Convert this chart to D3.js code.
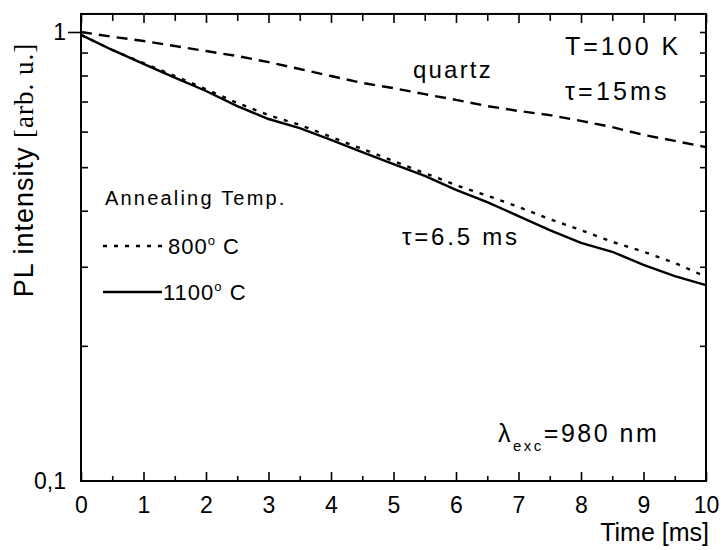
<!DOCTYPE html>
<html>
<head>
<meta charset="utf-8">
<script src="https://cdn.jsdelivr.net/npm/d3@7"></script>
<style>
  body { margin: 0; background: #fff; }
  text { font-family: "Liberation Sans", Arial, sans-serif; fill: #000; }
</style>
</head>
<body>
<script>
'use strict';

// time axis (ms)
const times = [0, 0.5, 1, 1.5, 2, 2.5, 3, 3.5, 4, 4.5, 5, 5.5, 6, 6.5, 7, 7.5, 8, 8.5, 9, 9.5, 10];

// PL intensity
const quartz = [1.0, 0.976, 0.955, 0.931, 0.907, 0.884, 0.857, 0.827, 0.798, 0.770, 0.750,
                0.727, 0.706, 0.684, 0.667, 0.653, 0.634, 0.614, 0.590, 0.572, 0.554];
const anneal800 = [0.985, 0.912, 0.853, 0.798, 0.746, 0.695, 0.653, 0.621, 0.584, 0.549, 0.516,
                   0.485, 0.456, 0.432, 0.408, 0.383, 0.362, 0.341, 0.324, 0.306, 0.285];
const anneal1100 = [0.985, 0.912, 0.849, 0.791, 0.739, 0.684, 0.640, 0.611, 0.575, 0.540, 0.508,
                    0.478, 0.445, 0.418, 0.389, 0.362, 0.339, 0.324, 0.303, 0.286, 0.273];

const xMajor = [0, 1, 2, 3, 4, 5, 6, 7, 8, 9, 10];
const xMinor = [0.5, 1.5, 2.5, 3.5, 4.5, 5.5, 6.5, 7.5, 8.5, 9.5];
const yMajor = [0.1, 1];
const yMinor = [0.2, 0.3, 0.4, 0.5, 0.6, 0.7, 0.8, 0.9];
const yTopLimit = 1.097;

const svg = d3.select('body').append('svg')
  .attr('width', 723)
  .attr('height', 550);

const x = d3.scaleLinear().domain([0, 10]).range([81, 706]);
const y = d3.scaleLog().domain([0.1, 1]).range([481, 32]);

// curves
const line = d3.line()
  .x((d) => x(d[0]))
  .y((d) => y(d[1]));

const series = [
  { vals: quartz, dash: '11,7' },
  { vals: anneal800, dash: '4,7' },
  { vals: anneal1100, dash: null }
];
series.forEach((s) => {
  svg.append('path')
    .datum(times.map((t, i) => [t, s.vals[i]]))
    .attr('d', line)
    .attr('fill', 'none')
    .attr('stroke', '#000')
    .attr('stroke-width', 2.4)
    .attr('stroke-dasharray', s.dash);
});

// frame
svg.append('rect')
  .attr('x', x(0))
  .attr('y', y(yTopLimit))
  .attr('width', x(10) - x(0))
  .attr('height', y(0.1) - y(yTopLimit))
  .attr('fill', 'none')
  .attr('stroke', '#000')
  .attr('stroke-width', 2);

function addAxis(axis, tx, ty, fontSize) {
  const g = svg.append('g')
    .attr('transform', 'translate(' + tx + ',' + ty + ')')
    .call(axis);
  g.select('.domain').remove();
  g.selectAll('line').attr('stroke', '#000').attr('stroke-width', 1.6);
  g.selectAll('text')
    .style('font-family', '"Liberation Sans", Arial, sans-serif')
    .style('font-size', fontSize + 'px')
    .attr('fill', '#000');
  return g;
}

// bottom axis
addAxis(d3.axisBottom(x).tickValues(xMajor).tickSize(-9).tickPadding(16), 0, y(0.1), 23);
addAxis(d3.axisBottom(x).tickValues(xMinor).tickSize(-5).tickFormat(''), 0, y(0.1), 10);
// top axis
addAxis(d3.axisTop(x).tickValues(xMajor).tickSize(-9).tickFormat(''), 0, y(yTopLimit), 10);
addAxis(d3.axisTop(x).tickValues(xMinor).tickSize(-7).tickFormat(''), 0, y(yTopLimit), 10);

// left axis
addAxis(d3.axisLeft(y).tickValues(yMajor).tickSize(0).tickPadding(15)
  .tickFormat((d) => d === 1 ? '1' : '0,1'), x(0), 0, 23);
addAxis(d3.axisLeft(y).tickValues([1]).tickSize(13).tickFormat(''), x(0), 0, 10);
addAxis(d3.axisLeft(y).tickValues(yMinor).tickSize(-7).tickFormat(''), x(0), 0, 10);
// right axis
addAxis(d3.axisRight(y).tickValues(yMinor.concat([1])).tickSize(-6).tickFormat(''), x(10), 0, 10);

// axis titles
svg.append('text')
  .attr('x', 709)
  .attr('y', 541)
  .attr('text-anchor', 'end')
  .style('font-size', '25px')
  .text('Time [ms]');

const yTitle = svg.append('text')
  .attr('transform', 'translate(33,170) rotate(-90)')
  .attr('text-anchor', 'middle')
  .style('font-size', '27px')
  .style('letter-spacing', '1px');
yTitle.append('tspan').text('PL intensity ');
yTitle.append('tspan')
  .style('font-family', '"Liberation Serif", "Times New Roman", serif')
  .text('[arb. u.]');

// annotations
function label(tx, ty, size, spacing, str) {
  return svg.append('text')
    .attr('x', tx)
    .attr('y', ty)
    .style('font-size', size + 'px')
    .style('letter-spacing', spacing + 'px')
    .text(str);
}
label(565, 55, 25, 3, 'T=100 K');
label(565, 100, 25, 3.2, 'τ=15ms');
label(413, 78, 24, 2.2, 'quartz');
label(402, 245, 24, 2.8, 'τ=6.5 ms');

const lam = svg.append('text')
  .attr('x', 498)
  .attr('y', 442)
  .style('font-size', '25px')
  .style('letter-spacing', '2.5px');
lam.append('tspan').text('λ');
lam.append('tspan').attr('dy', 9).style('font-size', '15px').text('exc');
lam.append('tspan').attr('dy', -9).text('=980 nm');

// legend
label(105, 205, 20, 2.2, 'Annealing Temp.');
const legendItems = [
  { name: '800', dash: '4,7', ly: 246 },
  { name: '1100', dash: null, ly: 292 }
];
legendItems.forEach((d) => {
  svg.append('line')
    .attr('x1', 103).attr('x2', 162)
    .attr('y1', d.ly).attr('y2', d.ly)
    .attr('stroke', '#000')
    .attr('stroke-width', 2.4)
    .attr('stroke-dasharray', d.dash);
  const t = svg.append('text')
    .attr('x', d.dash ? 168 : 163)
    .attr('y', d.ly + 8)
    .style('font-size', '22px')
    .style('letter-spacing', '1px');
  t.append('tspan').text(d.name);
  t.append('tspan').attr('dy', -9).style('font-size', '13px').text('o');
  t.append('tspan').attr('dy', 9).text(' C');
});
</script>
</body>
</html>
